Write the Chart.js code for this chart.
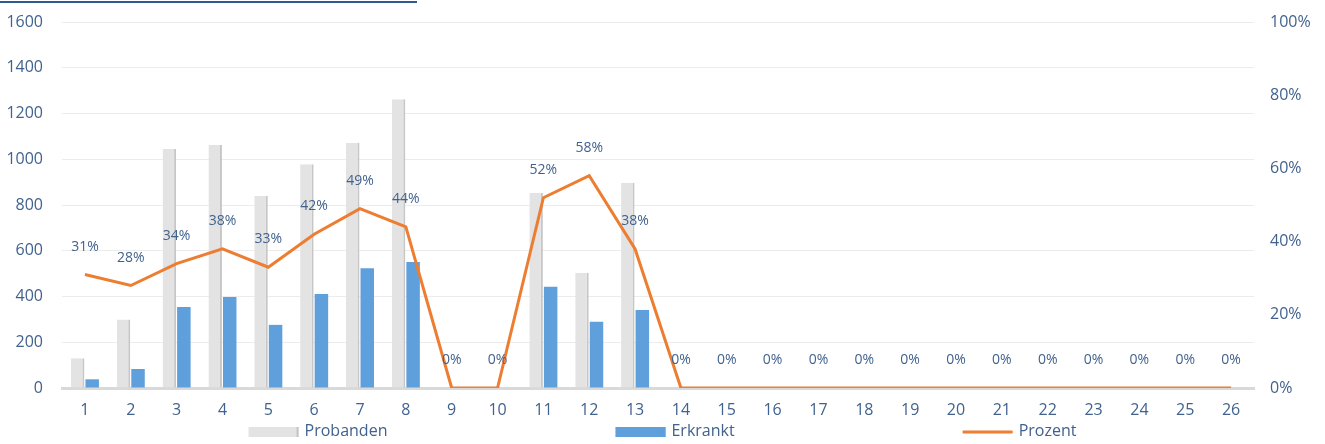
<!DOCTYPE html>
<html>
<head>
<meta charset="utf-8">
<script src="https://cdn.jsdelivr.net/npm/chart.js@4.4.0/dist/chart.umd.min.js"></script>
<style>
  body { margin: 0; background: #fff; }
  #wrap { position: relative; width: 1325px; height: 444px; }
  #rule { position: absolute; left: 0; top: 1px; width: 417px; height: 2px; background: #2e5b8f; }
</style>
</head>
<body>
<div id="wrap">
  <div id="rule"></div>
  <canvas id="chart"></canvas>
</div>
<script>
const categories = ['1','2','3','4','5','6','7','8','9','10','11','12','13','14','15','16','17','18','19','20','21','22','23','24','25','26'];
const probanden = [130, 300, 1045, 1062, 840, 978, 1071, 1262, 0, 0, 852, 504, 897, 0, 0, 0, 0, 0, 0, 0, 0, 0, 0, 0, 0, 0];
const erkrankt = [38, 83, 354, 398, 276, 411, 524, 551, 0, 0, 443, 290, 341, 0, 0, 0, 0, 0, 0, 0, 0, 0, 0, 0, 0, 0];
const prozent = [31, 28, 34, 38, 33, 42, 49, 44, 0, 0, 52, 58, 38, 0, 0, 0, 0, 0, 0, 0, 0, 0, 0, 0, 0, 0];

const textColor = '#41628e';
Chart.defaults.font.family = "'Open Sans', sans-serif";
Chart.defaults.font.size = 16;
Chart.defaults.color = textColor;

// percent labels above the line points
const pointLabels = {
    id: 'pointLabels',
    afterDatasetsDraw(chart) {
        const ctx = chart.ctx;
        const meta = chart.getDatasetMeta(2);
        ctx.save();
        ctx.font = "14px 'Open Sans'";
        ctx.fillStyle = textColor;
        ctx.textAlign = 'center';
        ctx.textBaseline = 'middle';
        meta.data.forEach((pt, i) => {
            ctx.fillText(prozent[i] + '%', pt.x, pt.y - 28);
        });
        ctx.restore();
    }
};

// wide spaced legend at the bottom
const bottomLegend = {
    id: 'bottomLegend',
    afterDraw(chart) {
        const ctx = chart.ctx;
        ctx.save();
        ctx.font = "16px 'Open Sans'";
        const items = [
            { text: 'Probanden', kind: 'box', color: '#e3e3e3', edge: '#c4c4c4' },
            { text: 'Erkrankt', kind: 'box', color: '#5f9fdb', edge: '#5f9fdb' },
            { text: 'Prozent', kind: 'line', color: '#ed7d31' }
        ];
        const sw = 50, gap = 6, spacing = 228;
        let total = 0;
        items.forEach((it, i) => {
            it.w = ctx.measureText(it.text).width;
            total += sw + gap + it.w + (i ? spacing : 0);
        });
        let x = chart.width / 2 - total / 2;
        const y = 432;
        ctx.textBaseline = 'middle';
        items.forEach(it => {
            if (it.kind === 'box') {
                ctx.fillStyle = it.color;
                ctx.fillRect(x, y - 5, sw, 10);
                ctx.fillStyle = it.edge;
                ctx.fillRect(x + sw - 2, y - 5, 2, 10);
            } else {
                ctx.strokeStyle = it.color;
                ctx.lineWidth = 3;
                ctx.beginPath();
                ctx.moveTo(x, y);
                ctx.lineTo(x + sw, y);
                ctx.stroke();
            }
            ctx.fillStyle = textColor;
            ctx.fillText(it.text, x + sw + gap, y - 1);
            x += sw + gap + it.w + spacing;
        });
        ctx.restore();
    }
};

const ctx = document.getElementById('chart').getContext('2d');
const chart = new Chart(ctx, {
    type: 'bar',
    data: {
        labels: categories,
        datasets: [{
            label: 'Probanden',
            data: probanden,
            backgroundColor: '#e3e3e3',
            borderColor: '#c6c6c6',
            borderWidth: { top: 0, right: 2, bottom: 0, left: 0 },
            borderSkipped: false,
            yAxisID: 'y',
            order: 2
        }, {
            label: 'Erkrankt',
            data: erkrankt,
            backgroundColor: '#5f9fdb',
            borderWidth: 0,
            yAxisID: 'y',
            order: 2
        }, {
            type: 'line',
            label: 'Prozent',
            data: prozent,
            borderColor: '#ed7d31',
            borderWidth: 3,
            pointRadius: 0,
            tension: 0,
            yAxisID: 'y1',
            order: 0
        }]
    },
    options: {
        responsive: true,
        maintainAspectRatio: false,
        animation: false,
        layout: { padding: { top: 22, left: 0, right: 0, bottom: 0 } },
        datasets: {
            bar: { categoryPercentage: 0.633, barPercentage: 0.93 }
        },
        plugins: {
            legend: { display: false },
            tooltip: { enabled: false }
        },
        scales: {
            x: {
                grid: { display: false, drawTicks: false },
                border: { color: '#d9d9d9', width: 3 },
                ticks: { padding: 13, maxRotation: 0, autoSkip: false },
                afterFit(scale) { scale.height = 56; }
            },
            y: {
                position: 'left',
                min: 0,
                max: 1600,
                ticks: { stepSize: 200, padding: 19, callback: v => String(v) },
                grid: { color: '#ececec', drawTicks: false },
                border: { display: false },
                afterFit(scale) { scale.width = 62; scale.paddingTop = 0; scale.paddingBottom = 0; }
            },
            y1: {
                position: 'right',
                min: 0,
                max: 100,
                ticks: { stepSize: 20, padding: 16, callback: v => v + '%' },
                grid: { drawOnChartArea: false, drawTicks: false },
                border: { display: false },
                afterFit(scale) { scale.width = 71; scale.paddingTop = 0; scale.paddingBottom = 0; }
            }
        }
    },
    plugins: [pointLabels, bottomLegend]
});
</script>
</body>
</html>
